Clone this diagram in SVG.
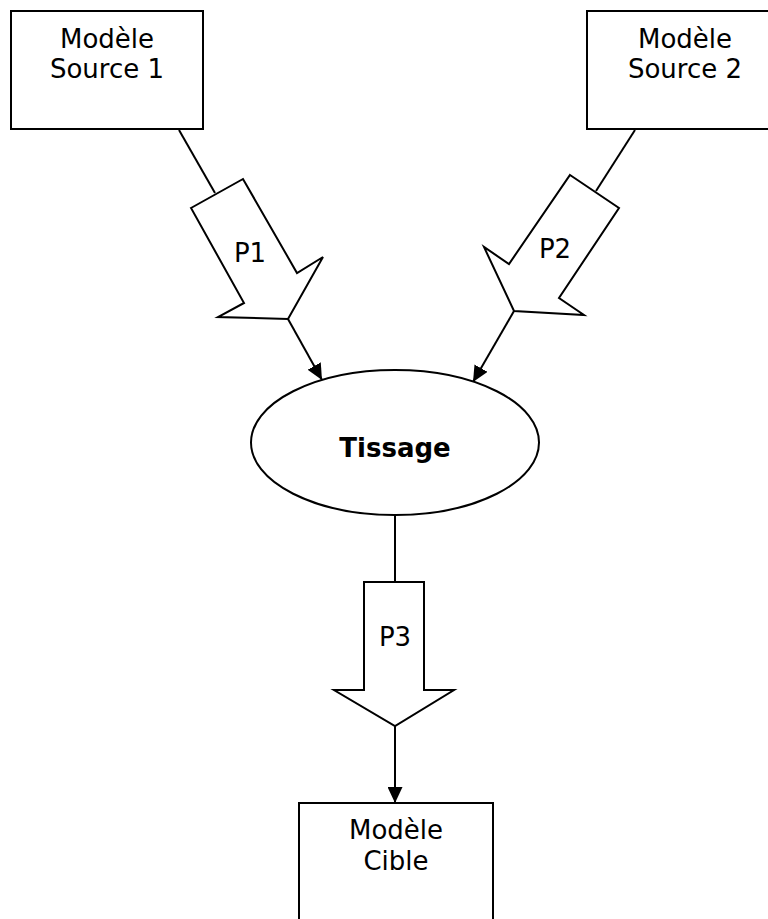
<svg xmlns="http://www.w3.org/2000/svg" width="768" height="919" viewBox="0 0 768 919">
  <style>
    .box { fill: #ffffff; stroke: #000000; stroke-width: 2; }
    .flow { fill: #ffffff; stroke: #000000; stroke-width: 2; stroke-linejoin: miter; }
    .link { fill: none; stroke: #000000; stroke-width: 2; }
    .label { font-family: "DejaVu Sans", Verdana, sans-serif; font-size: 26px; fill: #000000; text-anchor: middle; }
    .bold { font-weight: bold; }
  </style>
  <defs>
    <marker id="arrow" markerWidth="17" markerHeight="15" refX="16" refY="7.5" orient="auto" markerUnits="userSpaceOnUse">
      <path d="M0,0 L16,7.5 L0,15 Z" fill="#000000"/>
    </marker>
  </defs>
  <rect width="768" height="919" fill="#ffffff"/>

  <!-- connectors -->
  <g id="connectors">
    <line class="link" x1="179" y1="130" x2="215" y2="193"/>
    <line class="link" x1="288" y1="319" x2="322" y2="380" marker-end="url(#arrow)"/>
    <line class="link" x1="635" y1="130" x2="596" y2="191"/>
    <line class="link" x1="514" y1="311" x2="473" y2="382" marker-end="url(#arrow)"/>
    <line class="link" x1="395" y1="515" x2="395" y2="582"/>
    <line class="link" x1="395" y1="726" x2="395" y2="803" marker-end="url(#arrow)"/>
  </g>

  <!-- source model 1 -->
  <g id="source1">
    <rect class="box" x="11" y="11" width="192" height="118"/>
    <text class="label" x="107" y="48">Modèle</text>
    <text class="label" x="107" y="78">Source 1</text>
  </g>

  <!-- source model 2 -->
  <g id="source2">
    <rect class="box" x="587" y="11" width="194" height="118"/>
    <text class="label" x="685" y="48">Modèle</text>
    <text class="label" x="685" y="78">Source 2</text>
  </g>

  <!-- block arrow P1 -->
  <g id="p1">
    <polygon class="flow" points="191,208 243,179 297,273 323,257 288,319 218,317 244,303"/>
    <text class="label" x="250" y="262">P1</text>
  </g>

  <!-- block arrow P2 -->
  <g id="p2">
    <polygon class="flow" points="570,175 619,208 559,298 584,315 514,311 484,247 509,264"/>
    <text class="label" x="555" y="258">P2</text>
  </g>

  <!-- weaving step -->
  <g id="tissage">
    <ellipse class="box" cx="395" cy="442.5" rx="144" ry="72.5"/>
    <text class="label bold" x="395" y="457">Tissage</text>
  </g>

  <!-- block arrow P3 -->
  <g id="p3">
    <polygon class="flow" points="364,582 424,582 424,690 454,690 395,726 334,690 364,690"/>
    <text class="label" x="395" y="646">P3</text>
  </g>

  <!-- target model -->
  <g id="cible">
    <rect class="box" x="299" y="803" width="194" height="130"/>
    <text class="label" x="396" y="839">Modèle</text>
    <text class="label" x="396" y="870">Cible</text>
  </g>
</svg>
